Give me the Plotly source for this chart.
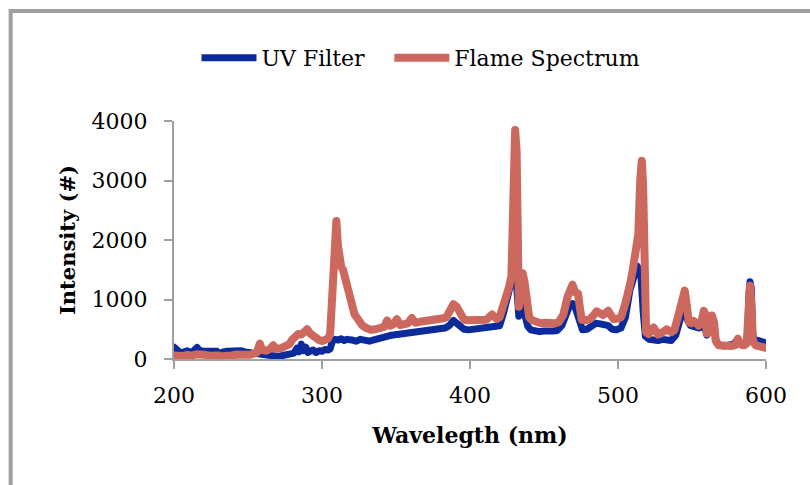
import plotly.graph_objects as go

# UV Filter series
uv_x = [200, 201.5, 203, 205, 207, 209, 211, 213, 215.6, 217, 220, 223, 226, 229, 231, 233, 236, 239, 242, 245,
        248, 251, 254, 257, 260, 263, 266, 269, 272, 275, 278, 281, 283, 284.5, 286, 287.5, 289, 290.5, 292, 294,
        296, 298, 300, 302, 304, 305.5, 307, 309, 311, 313, 315, 317, 320, 323, 326, 329, 332, 335, 338, 341,
        344, 347, 350, 353, 356, 359, 362, 365, 368, 371, 374, 377, 380, 383, 386, 388.8, 391, 393.3, 396, 399,
        402, 405, 408, 411, 414, 417, 420, 422.5, 425, 427, 428.5, 430, 431, 432, 433, 434.5, 436, 437.5, 439, 441,
        444, 447, 450, 453, 456, 459, 462, 465, 467, 469.3, 471, 472.5, 474, 476, 479, 482, 485, 488, 491, 493.4,
        496, 499, 502, 505, 508, 510, 512, 513, 514, 515.5, 517, 518.5, 521, 524, 527, 530, 533, 536, 539, 541,
        543, 545, 547, 549, 552, 555, 558, 560, 563, 565, 566.5, 569, 572, 575, 578, 581, 583, 586, 587.5, 588.5,
        589.2, 590, 591, 593, 595, 598, 601]
uv_y = [200, 160, 110, 90, 120, 140, 110, 130, 195, 150, 130, 135, 140, 130, 60, 120, 130, 140, 130, 140,
        120, 110, 100, 80, 60, 50, 40, 45, 50, 60, 70, 100, 180, 120, 250, 140, 200, 110, 130, 150,
        110, 140, 130, 160, 150, 170, 300, 330, 320, 340, 310, 330, 320, 300, 330, 320, 300, 320, 350, 370,
        380, 400, 410, 430, 440, 450, 460, 470, 470, 490, 480, 490, 500, 520, 560, 650, 600, 540, 500, 490,
        500, 510, 500, 520, 520, 530, 560, 760, 1050, 1250, 1400, 1500, 1400, 900, 720, 780, 880, 700, 550, 490,
        470, 460, 470, 460, 470, 480, 560, 750, 880, 930, 870, 760, 600, 490, 500, 560, 600, 590, 560, 560,
        500, 490, 520, 700, 1150, 1300, 1450, 1560, 1500, 1400, 800, 380, 330, 320, 310, 330, 330, 310, 400, 620,
        750, 880, 650, 560, 550, 520, 600, 400, 500, 480, 280, 230, 220, 230, 250, 330, 260, 250, 400, 1100,
        1300, 1200, 400, 300, 310, 270, 260]

# Flame Spectrum series
fl_x = [200, 203, 206, 209, 212, 215, 218, 221, 224, 227, 230, 233, 236, 239, 242, 245, 248, 251, 254, 256,
        258, 259.5, 262, 265, 267, 269, 272, 275, 278, 280, 282, 284, 286, 288, 290, 292, 294, 296, 298, 300,
        302, 304, 305.5, 307, 308.5, 309.7, 310.8, 311.9, 313, 314.2, 315.7, 317, 318, 320, 322, 324, 327, 330,
        333, 336, 339, 342, 344, 346, 348, 350.6, 352.8, 355, 358, 360.7, 363, 366, 369, 372, 375, 378, 381,
        384, 386, 388.8, 391, 393.3, 396, 399, 402, 405, 408, 411, 415, 418, 420, 422.5, 425, 426.5, 428, 429.3,
        430.5, 431.5, 432.3, 433, 434.3, 435.6, 436.8, 438.3, 440, 442, 445, 448, 451, 454, 457, 460, 463, 466,
        468, 469.3, 471, 473, 474.3, 475.5, 478, 481, 483, 485.5, 487, 490, 493.4, 495, 497, 500, 502, 504.8,
        506.5, 508.2, 510, 511.6, 512.7, 513.7, 515, 516.1, 517, 517.9, 519, 520.6, 522, 524, 526, 527, 529,
        531, 533, 536, 538, 541, 543, 545.1, 546.5, 547.8, 549.5, 551, 553, 554.5, 556, 558, 559, 560, 562,
        563.6, 565, 566, 568, 571, 574, 577, 579, 581, 582.5, 585, 587, 588.3, 589.2, 590.2, 591.2, 593, 596,
        598, 600, 601]
fl_y = [60, 40, 50, 70, 55, 80, 60, 70, 55, 65, 60, 45, 70, 60, 75, 65, 80, 70, 90, 110,
        260, 150, 140, 170, 230, 170, 180, 200, 250, 330, 400, 420, 410, 440, 500, 430, 380, 340, 320, 300,
        310, 340, 420, 1200, 2000, 2320, 1900, 1660, 1550, 1500, 1340, 1150, 1050, 830, 750, 680, 570, 520,
        490, 500, 510, 540, 650, 560, 580, 670, 570, 580, 600, 690, 610, 625, 630, 640, 640, 650, 680,
        700, 820, 920, 880, 740, 660, 650, 660, 640, 670, 660, 750, 670, 700, 880, 1050, 1220, 1400, 2600,
        3850, 3500, 1600, 880, 1100, 1440, 1300, 820, 700, 650, 620, 600, 610, 590, 600, 620, 740, 1050,
        1200, 1250, 1120, 1100, 850, 660, 650, 670, 720, 800, 780, 740, 810, 720, 670, 680, 700, 920,
        1050, 1260, 1500, 1820, 2075, 2100, 3000, 3330, 2900, 600, 450, 420, 460, 530, 460, 410, 430,
        470, 500, 450, 480, 750, 900, 1150, 900, 620, 600, 640, 600, 560, 600, 810, 750, 430, 450,
        730, 600, 310, 230, 220, 200, 220, 230, 340, 250, 230, 260, 900, 1230, 900, 300, 230, 220,
        200, 190, 180]

x_ticks = [200, 300, 400, 500, 600]
y_ticks = [0, 1000, 2000, 3000, 4000]

FONT = "DejaVu Serif"
fig = go.Figure()
fig.add_trace(go.Scatter(x=uv_x, y=uv_y, mode="lines", name="UV Filter", legend="legend",
                         line=dict(color="#0B2A9C", width=7)))
fig.add_trace(go.Scatter(x=fl_x, y=fl_y, mode="lines", name="Flame Spectrum", legend="legend2",
                         line=dict(color="#CC685D", width=8)))

L, R, T, B = 173.5, 44, 121, 126
W, H = 810, 485
pw, ph = W - L - R, H - T - B

def px(x):
    return (x - L) / pw

def py(y):
    return (H - B - y) / ph

leg_common = dict(orientation="h", y=py(58), xanchor="left", yanchor="middle",
                  font=dict(family=FONT, size=22), itemwidth=55, bgcolor="rgba(0,0,0,0)")

fig.update_layout(
    width=W, height=H,
    margin=dict(l=L, r=R, t=T, b=B, pad=0),
    paper_bgcolor="white", plot_bgcolor="white",
    font=dict(family=FONT, size=22, color="black"),
    showlegend=True,
    legend=dict(x=px(196), **leg_common),
    legend2=dict(x=px(389), **leg_common),
    xaxis=dict(range=[200, 600], tickvals=x_ticks, ticks="outside", ticklen=8, tickwidth=2,
               tickcolor="#A0A0A0", showline=True, linecolor="#A0A0A0", linewidth=2,
               showgrid=False, zeroline=False, ticklabelstandoff=8,
               title=dict(text="<b>Wavelegth (nm)</b>", font=dict(family=FONT, size=22), standoff=20)),
    yaxis=dict(range=[0, 4000], tickvals=y_ticks, ticks="outside", ticklen=8, tickwidth=2,
               tickcolor="#A0A0A0", showline=True, linecolor="#A0A0A0", linewidth=2,
               showgrid=False, zeroline=False, ticklabelstandoff=12,
               title=dict(text="<b>Intensity (#)</b>", font=dict(family=FONT, size=21), standoff=10)),
    shapes=[dict(type="rect", xref="paper", yref="paper", x0=px(10), y0=py(600),
                 x1=px(900), y1=py(11), line=dict(color="#A0A0A0", width=4), layer="below")],
)

fig.write_html("out.html", post_script=(
    "document.querySelectorAll('.scatterlayer path.js-line').forEach(function(p){"
    "p.style.strokeLinejoin='round';p.style.strokeLinecap='round';});"))
